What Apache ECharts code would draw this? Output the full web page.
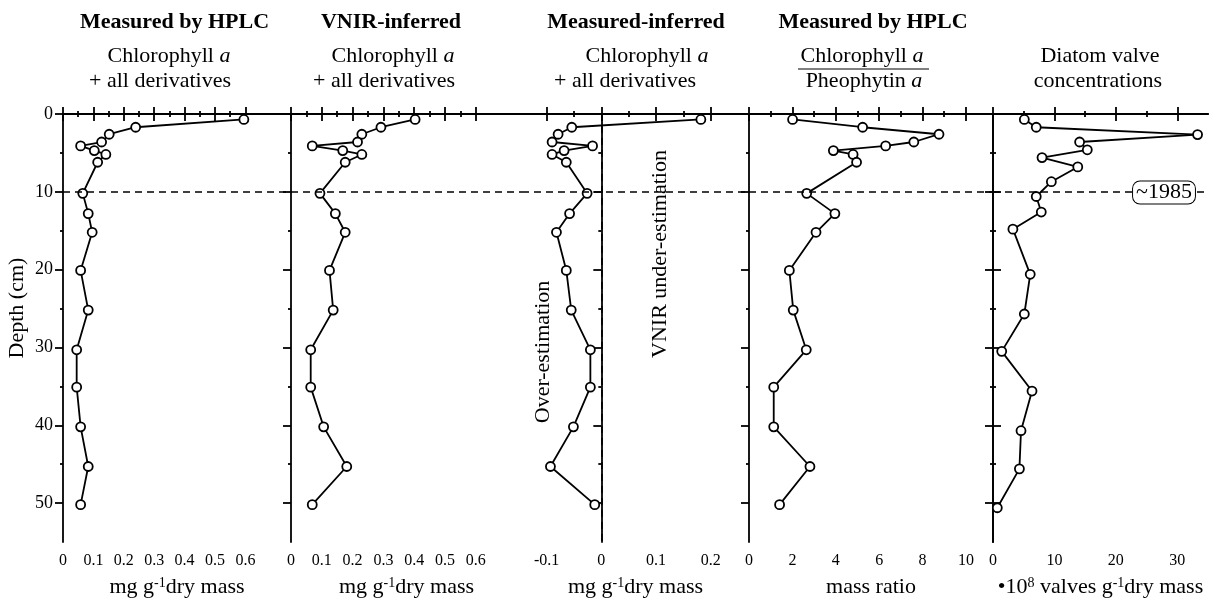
<!DOCTYPE html>
<html><head><meta charset="utf-8">
<script src="https://cdn.jsdelivr.net/npm/echarts@6/dist/echarts.min.js"></script>
<style>html,body{margin:0;padding:0;background:#fff}#c{width:1220px;height:603px}</style>
</head><body><div id="c"></div>
<script>
// ---- data ----
const depthCm = [0.7, 1.7, 2.6, 3.6, 4.1, 4.7, 5.2, 6.2, 10.2, 12.8, 15.2, 20.1, 25.2, 30.3, 35.1, 40.2, 45.3, 50.2];
const hplcChl = [0.595, 0.239, 0.152, 0.127, 0.058, 0.103, 0.141, 0.114, 0.065, 0.083, 0.096, 0.058, 0.083, 0.045, 0.045, 0.058, 0.083, 0.058];
const vnirChl = [0.403, 0.292, 0.23, 0.216, 0.069, 0.168, 0.23, 0.176, 0.094, 0.144, 0.176, 0.125, 0.137, 0.064, 0.064, 0.106, 0.181, 0.069];
const diffChl = [0.182, -0.054, -0.079, -0.09, -0.016, -0.068, -0.09, -0.064, -0.026, -0.058, -0.082, -0.064, -0.055, -0.02, -0.02, -0.051, -0.093, -0.012];
const chlPheoRatio = [2.01, 5.24, 8.76, 7.6, 6.3, 3.89, 4.8, 4.96, 2.66, 3.96, 3.09, 1.86, 2.04, 2.64, 1.14, 1.14, 2.81, 1.41];
const diatomDepthCm = [0.7, 1.7, 2.65, 3.6, 4.6, 5.6, 6.8, 8.7, 10.6, 12.6, 14.8, 20.6, 25.7, 30.5, 35.6, 40.7, 45.6, 50.6];
const diatomValves = [5.1, 7.04, 33.3, 14.1, 15.35, 7.98, 13.8, 9.5, 7.04, 7.86, 3.24, 6.06, 5.1, 1.42, 6.35, 4.56, 4.3, 0.7];

// ---- tick labels ----
const depthTicks = [0, 10, 20, 30, 40, 50];
const depthMinorTicks = [5, 15, 25, 35, 45];
const chlTicks = [0, 0.1, 0.2, 0.3, 0.4, 0.5, 0.6];
const chlMinorTicks = [0.05, 0.15, 0.25, 0.35, 0.45, 0.55];
const diffTicks = [-0.1, 0, 0.1, 0.2];
const diffMinorTicks = [-0.05, 0.05, 0.15];
const ratioTicks = [0, 2, 4, 6, 8, 10];
const ratioMinorTicks = [1, 3, 5, 7, 9];
const diatomTicks = [0, 10, 20, 30];
const diatomMinorTicks = [5, 15, 25];

const FONT = 'Liberation Serif';
const BLACK = '#000';
const TOP = 114, HEIGHT = 431;

const panels = [
  {left: 63, width: 228, min: 0, max: 0.75, ticks: chlTicks, minor: chlMinorTicks, xs: hplcChl, ys: depthCm, name: 'mg g{sup|-1}dry mass'},
  {left: 291, width: 231, min: 0, max: 0.75, ticks: chlTicks, minor: chlMinorTicks, xs: vnirChl, ys: depthCm, name: 'mg g{sup|-1}dry mass'},
  {left: 522, width: 227, min: -0.145, max: 0.27, ticks: diffTicks, minor: diffMinorTicks, xs: diffChl, ys: depthCm, name: 'mg g{sup|-1}dry mass', zeroLine: true},
  {left: 749, width: 244, min: 0, max: 11.25, ticks: ratioTicks, minor: ratioMinorTicks, xs: chlPheoRatio, ys: depthCm, name: 'mass ratio'},
  {left: 993, width: 215, min: 0, max: 35, ticks: diatomTicks, minor: diatomMinorTicks, xs: diatomValves, ys: diatomDepthCm, name: '•10{sup|8} valves g{sup|-1}dry mass'}
];

const axLine = {color: BLACK, width: 1.8};
const grid = panels.map(p => ({left: p.left, top: TOP, width: p.width, height: HEIGHT, containLabel: false}));
const xAxis = [];
const yAxis = [];
const series = [];

panels.forEach((p, g) => {
  const base = {type: 'value', gridIndex: g, min: p.min, max: p.max, splitLine: {show: false}};
  xAxis.push(Object.assign({}, base, {
    position: 'bottom',
    axisLine: {show: true, lineStyle: axLine},
    axisTick: {show: true, customValues: p.ticks, length: 7, lineStyle: axLine},
    axisLabel: {show: true, customValues: p.ticks, fontFamily: FONT, fontSize: 16, color: BLACK, margin: 11},
    name: p.name, nameLocation: 'middle', nameGap: 34,
    nameTextStyle: {fontFamily: FONT, fontSize: 22, color: BLACK,
      rich: {sup: {fontFamily: FONT, fontSize: 14, color: BLACK, verticalAlign: 'top'}}}
  }));
  xAxis.push(Object.assign({}, base, {
    position: 'bottom', axisLine: {show: false},
    axisTick: {show: true, customValues: p.minor, length: 3, lineStyle: axLine},
    axisLabel: {show: false}
  }));
  xAxis.push(Object.assign({}, base, {
    position: 'top', axisLine: {show: true, lineStyle: axLine},
    axisTick: {show: true, customValues: p.ticks, length: 7, lineStyle: axLine},
    axisLabel: {show: false}
  }));
  xAxis.push(Object.assign({}, base, {
    position: 'top', axisLine: {show: false},
    axisTick: {show: true, customValues: p.minor, length: 3, lineStyle: axLine},
    axisLabel: {show: false}
  }));

  const ybase = {type: 'value', gridIndex: g, min: 0, max: 55, inverse: true, splitLine: {show: false}};
  yAxis.push(Object.assign({}, ybase, {
    position: 'left', axisLine: {show: true, lineStyle: axLine},
    axisTick: {show: true, customValues: depthTicks, length: 8, lineStyle: axLine},
    axisLabel: g === 0 ? {show: true, customValues: depthTicks, fontFamily: FONT, fontSize: 18, color: BLACK, margin: 10} : {show: false}
  }));
  yAxis.push(Object.assign({}, ybase, {
    position: 'left', axisLine: {show: false},
    axisTick: {show: true, customValues: depthMinorTicks, length: 3, lineStyle: axLine},
    axisLabel: {show: false}
  }));
});
// right-hand axis of the last panel
yAxis.push({type: 'value', gridIndex: 4, min: 0, max: 55, inverse: true, position: 'right', splitLine: {show: false},
  axisLine: {show: true, lineStyle: axLine},
  axisTick: {show: true, customValues: depthTicks, length: 8, lineStyle: axLine}, axisLabel: {show: false}});
yAxis.push({type: 'value', gridIndex: 4, min: 0, max: 55, inverse: true, position: 'right', splitLine: {show: false},
  axisLine: {show: false},
  axisTick: {show: true, customValues: depthMinorTicks, length: 3, lineStyle: axLine}, axisLabel: {show: false}});

const dashed = {color: BLACK, width: 1.6, type: [7, 5]};
panels.forEach((p, g) => {
  const mlData = [{yAxis: 10}];
  if (p.zeroLine) mlData.push({xAxis: 0});
  series.push({
    type: 'line', xAxisIndex: 4 * g, yAxisIndex: 2 * g, data: [], z: 1, silent: true,
    markLine: {symbol: 'none', silent: true, animation: false, label: {show: false}, lineStyle: dashed, data: mlData}
  });
  series.push({
    type: 'line', xAxisIndex: 4 * g, yAxisIndex: 2 * g, z: 3,
    data: p.xs.map((v, i) => [v, p.ys[i]]),
    symbol: 'circle', symbolSize: 9,
    lineStyle: {color: BLACK, width: 1.8},
    itemStyle: {color: '#fff', borderColor: BLACK, borderWidth: 1.8},
    emphasis: {disabled: true}
  });
});

function txt(x, y, text, extra) {
  const st = Object.assign({
    text: text, fontFamily: FONT, fontSize: 22, fill: BLACK,
    textAlign: 'center', textVerticalAlign: 'middle', align: 'center', verticalAlign: 'middle',
    rich: {i: {fontFamily: FONT, fontSize: 22, fontStyle: 'italic', fill: BLACK, color: BLACK}}
  }, extra || {});
  return {type: 'text', x: x, y: y, z: 10, style: st};
}
const bold = {fontWeight: 'bold'};
const graphic = [
  txt(174.5, 22, 'Measured by HPLC', bold),
  txt(169, 56, 'Chlorophyll {i|a}'),
  txt(160, 81, '+ all derivatives'),
  txt(391, 22, 'VNIR-inferred', bold),
  txt(393, 56, 'Chlorophyll {i|a}'),
  txt(384, 81, '+ all derivatives'),
  txt(636, 22, 'Measured-inferred', bold),
  txt(647, 56, 'Chlorophyll {i|a}'),
  txt(625, 81, '+ all derivatives'),
  txt(873, 22, 'Measured by HPLC', bold),
  txt(862, 56, 'Chlorophyll {i|a}'),
  txt(864, 81, 'Pheophytin {i|a}'),
  {type: 'line', shape: {x1: 798, y1: 69, x2: 929, y2: 69}, style: {stroke: BLACK, lineWidth: 1.2}},
  txt(1100, 56, 'Diatom valve'),
  txt(1098, 81, 'concentrations'),
  Object.assign(txt(17, 308, 'Depth (cm)'), {rotation: Math.PI / 2}),
  Object.assign(txt(543, 352, 'Over-estimation'), {rotation: Math.PI / 2}),
  Object.assign(txt(660, 254, 'VNIR under-estimation'), {rotation: Math.PI / 2}),
  txt(1164, 192.5, '~1985', {backgroundColor: '#fff', borderColor: BLACK, borderWidth: 1, borderRadius: 7, padding: [0, 3, 0, 3]})
];

const chart = echarts.init(document.getElementById('c'), null, {renderer: 'canvas'});
chart.setOption({
  animation: false,
  backgroundColor: '#fff',
  grid: grid, xAxis: xAxis, yAxis: yAxis, series: series, graphic: graphic
});
</script></body></html>
